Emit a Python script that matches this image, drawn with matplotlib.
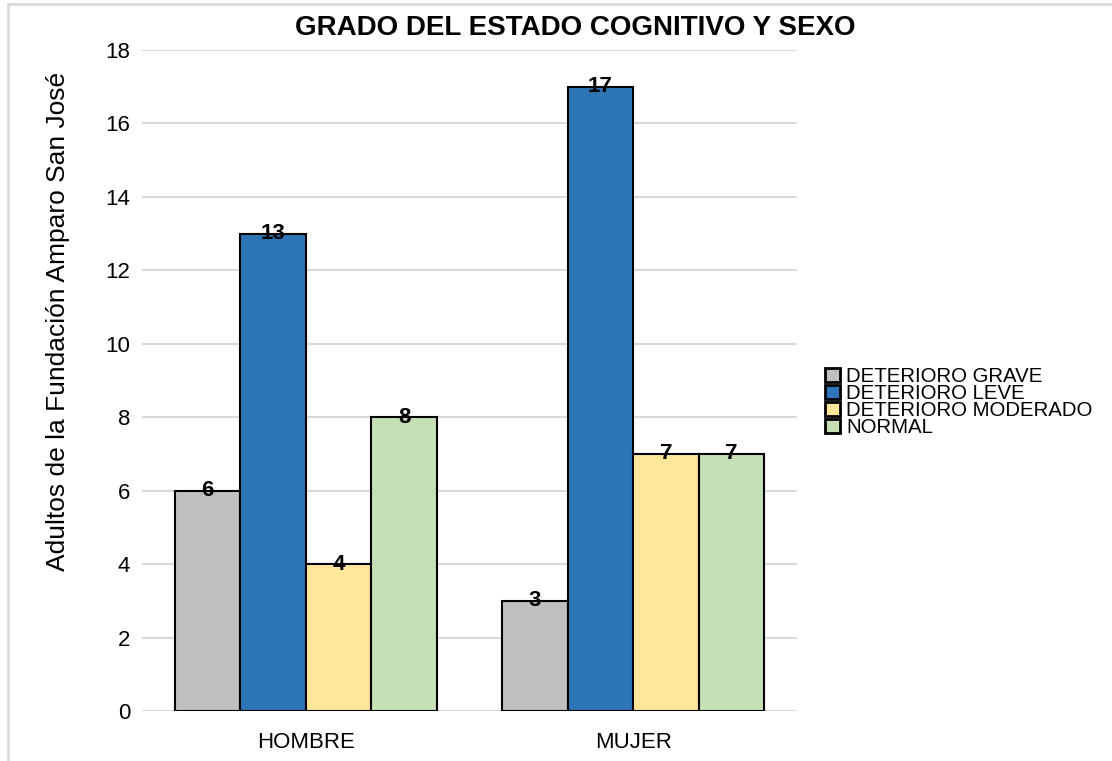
import numpy as np
import matplotlib
matplotlib.use('Agg')
import matplotlib.pyplot as plt
from matplotlib.lines import Line2D

plt.rcParams['font.family'] = ['Liberation Sans', 'DejaVu Sans']

groups = ['HOMBRE', 'MUJER']
series = ['DETERIORO GRAVE', 'DETERIORO LEVE', 'DETERIORO MODERADO', 'NORMAL']
grave = [6, 3]
leve = [13, 17]
moderado = [4, 7]
normal = [8, 7]
colors = ['#bfbfbf', '#2e75b6', '#ffe699', '#c5e0b4']
yticks = [0, 2, 4, 6, 8, 10, 12, 14, 16, 18]

fig = plt.figure(figsize=(11.12, 7.61), dpi=100)
ax = fig.add_axes([142/1112, 1-711/761, 655/1112, 661/761])

x = np.arange(len(groups))
w = 0.2
for i, (vals, c, name) in enumerate(zip([grave, leve, moderado, normal], colors, series)):
    pos = x - 0.3 + i * w
    bars = ax.bar(pos, vals, width=w, color=c, edgecolor='black', linewidth=1.5,
                  label=name, zorder=3)
    for p, v in zip(pos, vals):
        ax.text(p, v, str(v), ha='center', va='center', fontsize=16,
                fontweight='bold', zorder=4)

ax.set_xlim(-0.5, 1.5)
ax.set_ylim(0, 18)
ax.set_yticks(yticks)
ax.set_xticks(x)
ax.set_xticklabels(groups)
ax.tick_params(axis='y', length=0, pad=8.5, labelsize=16)
ax.tick_params(axis='x', length=0, pad=15, labelsize=16)
ax.grid(axis='y', color='#d9d9d9', linewidth=1.5, zorder=0)
for s in ax.spines.values():
    s.set_visible(False)

fig.text(575/1112, 1-28/761, 'GRADO DEL ESTADO COGNITIVO Y SEXO', ha='center',
         va='center', fontsize=20, fontweight='bold')
fig.text(58/1112, 1-321/761, 'Adultos de la Fundación Amparo San José',
         rotation=90, ha='center', va='center', fontsize=19)

leg = ax.legend(loc='center left', bbox_to_anchor=(815/1112, 1-402/761),
                bbox_transform=fig.transFigure, frameon=False, fontsize=14.7,
                handlelength=0.72, handleheight=0.72, handletextpad=0.3,
                labelspacing=-0.1, borderpad=0)
for h in leg.legend_handles:
    h.set_linewidth(2)

# outer border (top and left only)
fig.add_artist(Line2D([8/1112, 1], [1-4/761, 1-4/761], color='#d9d9d9', linewidth=2,
                      transform=fig.transFigure))
fig.add_artist(Line2D([8/1112, 8/1112], [0, 1-4/761], color='#d9d9d9', linewidth=2,
                      transform=fig.transFigure))

fig.savefig('out.png', dpi=100)
